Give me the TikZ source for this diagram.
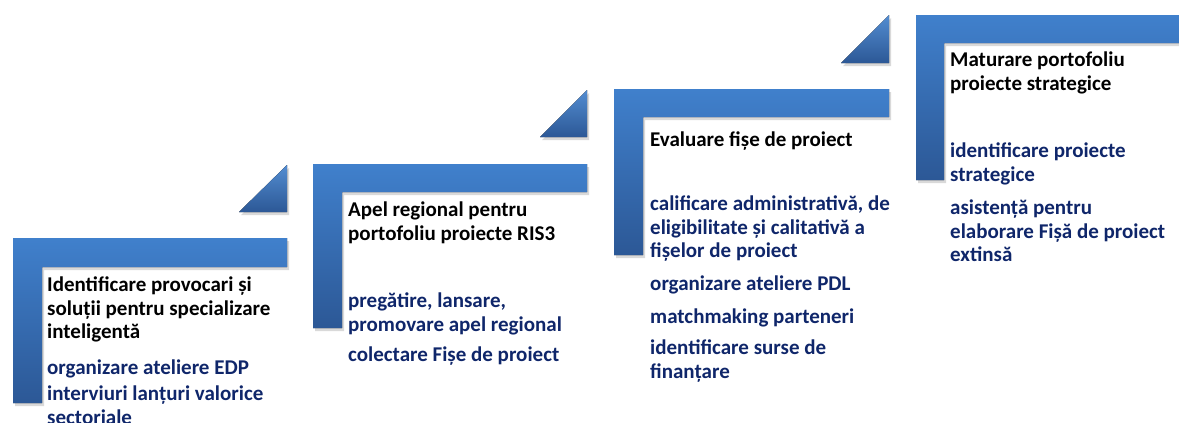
\documentclass[tikz,border=0pt]{standalone}
\usepackage{fontspec}
\setmainfont{Carlito}
\usetikzlibrary{shadows}

\definecolor{barblue}{RGB}{64,128,204}
\definecolor{bardark}{RGB}{44,88,150}
\definecolor{navy}{RGB}{15,38,106}

\begin{document}
\begin{tikzpicture}[
  x=1pt, y=-1pt,
  stair/.style={top color=barblue, bottom color=bardark, draw=none,
    drop shadow={shadow xshift=2pt, shadow yshift=-3pt, opacity=.3}},
  wedge/.style={top color=barblue!90!white, bottom color=bardark, draw=none,
    drop shadow={shadow xshift=2pt, shadow yshift=-3pt, opacity=.3}},
  head/.style={anchor=north west, inner sep=0pt, align=left, text=black,
    font=\fontsize{21}{23.5}\selectfont\bfseries},
  task/.style={head, text=navy}
]
\useasboundingbox (0,0) rectangle (1179,423);

% Steps
\fill[stair] (13,238) -- (287,238) -- (287,267) -- (42,267) -- (42,403) -- (13,403) -- cycle;
\fill[wedge] (239,212) -- (287,165) -- (287,212) -- cycle;

\fill[stair] (313,164) -- (587,164) -- (587,192) -- (342,192) -- (342,328) -- (313,328) -- cycle;
\fill[wedge] (540,137) -- (587,90) -- (587,137) -- cycle;

\fill[stair] (614,89) -- (889,89) -- (889,117) -- (643,117) -- (643,255) -- (614,255) -- cycle;
\fill[wedge] (841,63) -- (889,15) -- (889,63) -- cycle;

\fill[stair] (916,15) -- (1200,15) -- (1200,43) -- (944,43) -- (944,180) -- (916,180) -- cycle;

% Step 1
\node[head] (h1) at (47,277) {Identificare provocari și\\soluții pentru specializare\\inteligentă};
\node[task] (t11) at (47,360) {organizare ateliere EDP};
\node[task] (t12) at (47,386) {interviuri lanțuri valorice\\sectoriale};

% Step 2
\node[head] (h2) at (348,202) {Apel regional pentru\\portofoliu proiecte RIS3};
\node[task] (t21) at (348,293) {pregătire, lansare,\\promovare apel regional};
\node[task] (t22) at (348,347) {colectare Fișe de proiect};

% Step 3
\node[head] (h3) at (650,132) {Evaluare fișe de proiect};
\node[task] (t31) at (650,196) {calificare administrativă, de\\eligibilitate și calitativă a\\fișelor de proiect};
\node[task] (t32) at (650,276) {organizare ateliere PDL};
\node[task] (t33) at (650,309) {matchmaking parteneri};
\node[task] (t34) at (650,340) {identificare surse de\\finanțare};

% Step 4
\node[head] (h4) at (950,52) {Maturare portofoliu\\proiecte strategice};
\node[task] (t41) at (950,143) {identificare proiecte\\strategice};
\node[task] (t42) at (950,200) {asistență pentru\\elaborare Fișă de proiect\\extinsă};

\end{tikzpicture}
\end{document}
